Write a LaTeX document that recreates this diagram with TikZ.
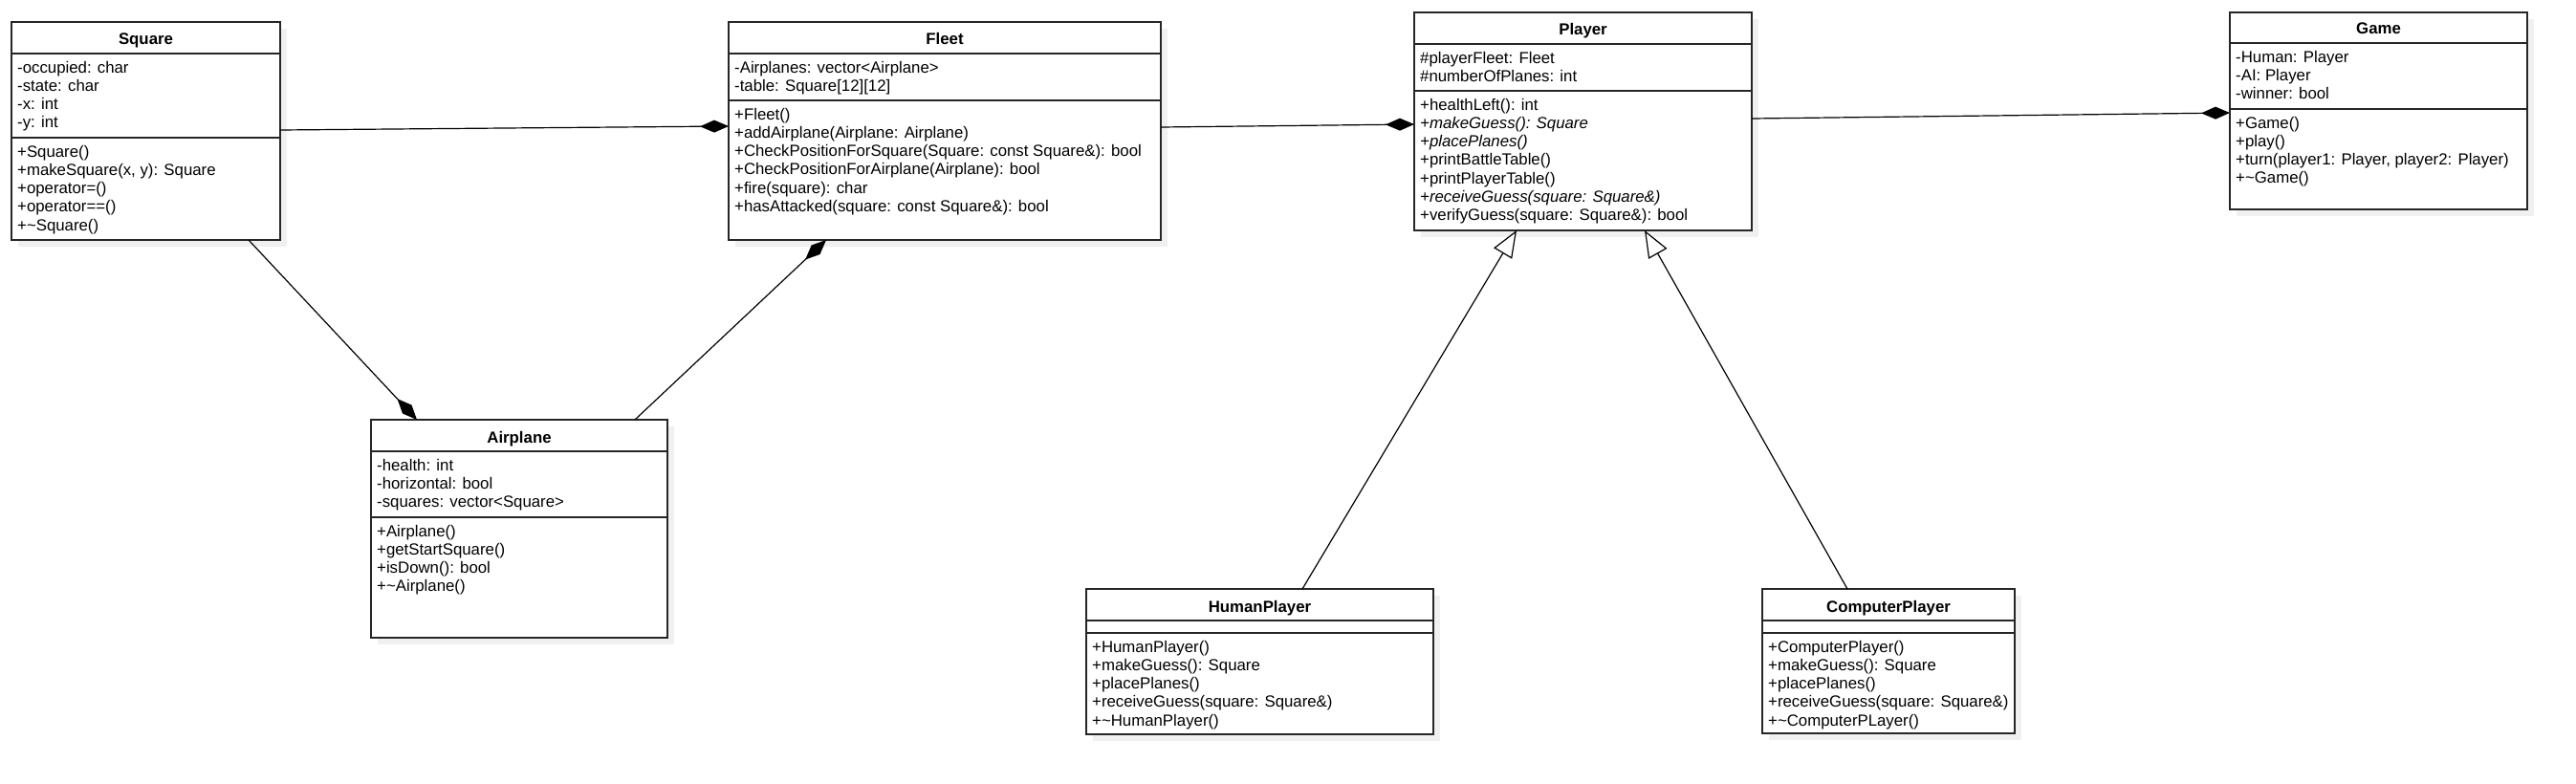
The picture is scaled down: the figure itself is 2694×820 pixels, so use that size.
\documentclass[tikz,border=0pt]{standalone}
\usepackage{fontspec}
\setmainfont{Liberation Sans}
\usetikzlibrary{arrows.meta,calc}
\newcommand\fst{\rule{0pt}{14bp}}
\newcommand\umlbox[7]{%
  \fill[black!6] (#2+7,#3+7) rectangle (#2+#4+7,#5+7);
  \node[box, minimum width={(#4)*1bp}, minimum height={(#5-#3)*1bp}] (#1) at (#2,#3) {};
  \draw[divider] (#2,#6) -- (#2+#4,#6);
  \draw[divider] (#2,#7) -- (#2+#4,#7);
}
\begin{document}
\begin{tikzpicture}[x=1bp,y=-1bp,
  box/.style={draw=black!85, line width=1.3bp, fill=white, anchor=north west, inner sep=0pt, outer sep=0pt},
  divider/.style={draw=black!85, line width=1.3bp},
  ctitle/.style={font=\fontsize{16.8bp}{19.2bp}\selectfont\bfseries, inner sep=0pt, anchor=base},
  ctext/.style={font=\fontsize{16.8bp}{19.2bp}\selectfont, align=left, anchor=north west, inner xsep=6bp, inner ysep=6bp},
  conn/.style={line width=1.2bp, draw=black},
  comp/.style={conn, -{Diamond[length=30bp,width=13bp]}},
  inh/.style={conn, -{Triangle[length=28bp,width=22bp,fill=white]}},
]
\useasboundingbox (0,0) rectangle (2694,820);

% Square
\umlbox{sq}{12}{23}{281}{251}{56}{144}
\node[ctitle] (sqT) at (152.5,47) {Square};
\node[ctext] (sqA) at (12,56) {\fst-occupied: char\\-state: char\\-x: int\\-y: int};
\node[ctext] (sqM) at (12,144) {\fst+Square()\\+makeSquare(x, y): Square\\+operator=()\\+operator==()\\+\textasciitilde Square()};

% Fleet
\umlbox{fl}{762}{23}{452}{251}{56}{105}
\node[ctitle] (flT) at (988,47) {Fleet};
\node[ctext] (flA) at (762,56) {\fst-Airplanes: vector<Airplane>\\-table: Square[12][12]};
\node[ctext] (flM) at (762,105) {\fst+Fleet()\\+addAirplane(Airplane: Airplane)\\+CheckPositionForSquare(Square: const Square\&): bool\\+CheckPositionForAirplane(Airplane): bool\\+fire(square): char\\+hasAttacked(square: const Square\&): bool};

% Player
\umlbox{pl}{1479}{13}{353}{241}{46}{95}
\node[ctitle] (plT) at (1655.5,37) {Player};
\node[ctext] (plA) at (1479,46) {\fst\#playerFleet: Fleet\\\#numberOfPlanes: int};
\node[ctext] (plM) at (1479,95) {\fst+healthLeft(): int\\\textit{+makeGuess(): Square}\\\textit{+placePlanes()}\\+printBattleTable()\\+printPlayerTable()\\\textit{+receiveGuess(square: Square\&)}\\+verifyGuess(square: Square\&): bool};

% Game
\umlbox{gm}{2332}{13}{311}{219}{45}{114}
\node[ctitle] (gmT) at (2487.5,36) {Game};
\node[ctext] (gmA) at (2332,45) {\fst-Human: Player\\-AI: Player\\-winner: bool};
\node[ctext] (gmM) at (2332,114) {\fst+Game()\\+play()\\+turn(player1: Player, player2: Player)\\+\textasciitilde Game()};

% Airplane
\umlbox{ap}{388}{439}{310}{667}{472}{541}
\node[ctitle] (apT) at (543,463) {Airplane};
\node[ctext] (apA) at (388,472) {\fst-health: int\\-horizontal: bool\\-squares: vector<Square>};
\node[ctext] (apM) at (388,541) {\fst+Airplane()\\+getStartSquare()\\+isDown(): bool\\+\textasciitilde Airplane()};

% HumanPlayer
\umlbox{hp}{1136}{616}{363}{768}{649}{662}
\node[ctitle] (hpT) at (1317.5,640) {HumanPlayer};
\node[ctext] (hpM) at (1136,662) {\fst+HumanPlayer()\\+makeGuess(): Square\\+placePlanes()\\+receiveGuess(square: Square\&)\\+\textasciitilde HumanPlayer()};

% ComputerPlayer
\umlbox{cp}{1843}{616}{264}{767}{649}{662}
\node[ctitle] (cpT) at (1975,640) {ComputerPlayer};
\node[ctext] (cpM) at (1843,662) {\fst+ComputerPlayer()\\+makeGuess(): Square\\+placePlanes()\\+receiveGuess(square: Square\&)\\+\textasciitilde ComputerPLayer()};

% connectors
\draw[comp] ([yshift=-113bp]sq.north east) -- ([yshift=-109bp]fl.north west);
\draw[comp] ([yshift=-110bp]fl.north east) -- ([yshift=-117bp]pl.north west);
\draw[comp] ([yshift=-111bp]pl.north east) -- ([yshift=-105bp]gm.north west);
\draw[comp] ([xshift=248bp]sq.south west) -- ([xshift=48bp]ap.north west);
\draw[comp] ([xshift=276bp]ap.north west) -- ([xshift=102bp]fl.south west);
\draw[inh] ([xshift=226bp]hp.north west) -- ([xshift=107bp]pl.south west);
\draw[inh] ([xshift=89bp]cp.north west) -- ([xshift=241bp]pl.south west);
\end{tikzpicture}
\end{document}
